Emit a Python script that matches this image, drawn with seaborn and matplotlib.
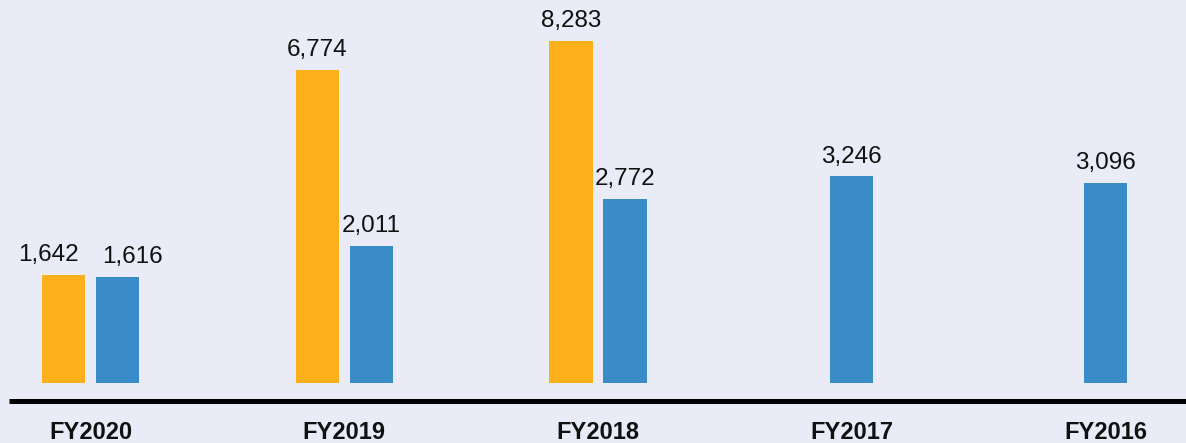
import numpy as np
import pandas as pd
import matplotlib
matplotlib.use("Agg")
import matplotlib.pyplot as plt
from matplotlib.lines import Line2D
import seaborn as sns

# ---- data ----
years = ["FY2020", "FY2019", "FY2018", "FY2017", "FY2016"]
series_names = ["Series A", "Series B"]
series_a = [1642, 6774, 8283, None, None]
series_b = [1616, 2011, 2772, 3246, 3096]

# ---- style ----
BG = "#E9ECF6"
COLORS = {"Series A": "#FDB01A", "Series B": "#3A8CC8"}
sns.set_theme(style="white")
plt.rcParams["font.family"] = ["Liberation Sans", "DejaVu Sans"]

# build long table; bars within a group sit side by side, lone bars centered
OFFSET = 0.1064
BAR_W = 0.1695
rows = []
for i, yr in enumerate(years):
    vals = {"Series A": series_a[i], "Series B": series_b[i]}
    present = [s for s in series_names if vals[s] is not None]
    for j, s in enumerate(present):
        off = 0.0 if len(present) == 1 else (-OFFSET if j == 0 else OFFSET)
        side = 0 if len(present) == 1 else (-1 if j == 0 else 1)
        rows.append({"pos": i + off, "value": vals[s], "series": s,
                     "year": yr, "side": side, "group": i})
df = pd.DataFrame(rows)
min_gap = np.min(np.diff(np.unique(df["pos"])))

fig = plt.figure(figsize=(11.86, 4.43), dpi=100)
fig.patch.set_facecolor(BG)
ax = fig.add_axes([0, (443 - 383) / 443, 1, 383 / 443])
ax.set_facecolor(BG)

sns.barplot(data=df, x="pos", y="value", hue="series", palette=COLORS,
            native_scale=True, dodge=False, width=BAR_W / min_gap,
            saturation=1, legend=False, ax=ax, errorbar=None,
            linewidth=0, edgecolor="none")

ax.set_yscale("log")
ax.set_ylim(778, 10994)
ax.set_xlim(-90.5 / 253.75, 4 + (1186 - 1105.5) / 253.75)

# value labels (pairs with near-equal values are pushed apart to avoid overlap)
for _, r in df.iterrows():
    dx = 0
    if r["side"] != 0:
        grp = df[df["group"] == r["group"]]["value"]
        if abs(np.log10(grp.max() / grp.min())) < 0.1:
            dx = 11 * r["side"]
    ax.annotate(f"{r['value']:,}", (r["pos"], r["value"]), xytext=(dx, 10),
                textcoords="offset points", ha="center", va="baseline",
                fontsize=17.5, color="#111111")

ax.set_xticks(range(len(years)))
ax.set_xticklabels(years, fontsize=17, fontweight="bold", color="#111111")
ax.tick_params(axis="x", length=0, pad=27.5)
ax.set_yticks([])
ax.yaxis.set_minor_locator(matplotlib.ticker.NullLocator())
ax.set_xlabel("")
ax.set_ylabel("")
for s in ax.spines.values():
    s.set_visible(False)

# thick black baseline rule
fig.add_artist(Line2D([9 / 1186, 1], [(443 - 401) / 443] * 2,
                      transform=fig.transFigure, color="black", lw=3.6,
                      solid_capstyle="butt"))

fig.savefig("out.png", dpi=100, facecolor=BG)
